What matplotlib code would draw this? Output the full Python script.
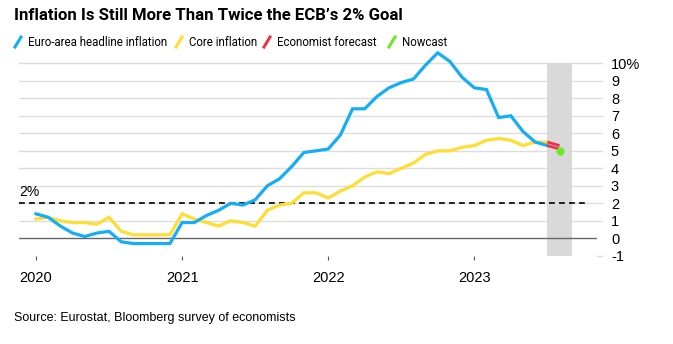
import matplotlib
matplotlib.use("Agg")
import matplotlib.pyplot as plt
import numpy as np

# monthly readings, Jan 2020 .. Jul 2023 (y/y %)
headline = [1.4, 1.2, 0.7, 0.3, 0.1, 0.3, 0.4, -0.2, -0.3, -0.3, -0.3, -0.3,
            0.9, 0.9, 1.3, 1.6, 2.0, 1.9, 2.2, 3.0, 3.4, 4.1, 4.9, 5.0,
            5.1, 5.9, 7.4, 7.4, 8.1, 8.6, 8.9, 9.1, 9.9, 10.6, 10.1, 9.2,
            8.6, 8.5, 6.9, 7.0, 6.1, 5.5, 5.3]
core = [1.1, 1.2, 1.0, 0.9, 0.9, 0.8, 1.2, 0.4, 0.2, 0.2, 0.2, 0.2,
        1.4, 1.1, 0.9, 0.7, 1.0, 0.9, 0.7, 1.6, 1.9, 2.0, 2.6, 2.6,
        2.3, 2.7, 3.0, 3.5, 3.8, 3.7, 4.0, 4.3, 4.8, 5.0, 5.0, 5.2,
        5.3, 5.6, 5.7, 5.6, 5.3, 5.5, 5.5]
forecast_headline = [5.3, 5.1]   # Jul -> Aug 2023
forecast_core = [5.5, 5.3]
nowcast = 5.0                    # Aug 2023
years = ["2020", "2021", "2022", "2023"]
yticks = [-1, 0, 1, 2, 3, 4, 5, 6, 7, 8, 9, 10]

plt.rcParams["font.family"] = ["Liberation Sans", "DejaVu Sans"]

BLUE = "#13aef5"
YELLOW = "#ffdd33"
RED = "#ea3447"
GREEN = "#6ee82a"

fig = plt.figure(figsize=(6.73, 3.44), dpi=100)
W, H = 673, 344
ylo, yhi = -1.25, 11
y0px, ppu = 238.3, 17.5
bottom = 1 - (y0px - ylo * ppu) / H
top = 1 - (y0px - yhi * ppu) / H
ax = fig.add_axes([19 / W, bottom, (597 - 19) / W, top - bottom])

ppm = 12.175
xlo = (19 - 36) / ppm
xhi = (597 - 36) / ppm
ax.set_xlim(xlo, xhi)
ax.set_ylim(ylo, yhi)
for s in ax.spines.values():
    s.set_visible(False)

grid_end = (602 - 36) / ppm
for v in range(1, 11):
    ax.plot([xlo, grid_end], [v, v], color="#dddddd", lw=1, clip_on=False, zorder=1)
ax.plot([xhi, grid_end], [-1, -1], color="#dddddd", lw=1, clip_on=False, zorder=1)
ax.plot([xlo, xhi], [0, 0], color="#666666", lw=1, zorder=2)

# forecast window
ax.fill_between([42, 44], -1, 10, color="#d9d9d9", lw=0, zorder=1.5)

# ECB target
ax.plot([xlo, (589 - 36) / ppm], [2, 2], color="black", lw=1.2, ls=(0, (3.5, 2.5)), zorder=3)
ax.text(xlo, 2.25, "2%", fontsize=10, va="bottom", ha="left")

months = np.arange(len(headline))
ax.plot(months, core, color=YELLOW, lw=2.3, zorder=4, solid_joinstyle="miter")
ax.plot(months, headline, color=BLUE, lw=2.3, zorder=5, solid_joinstyle="miter")
ax.plot([42, 43], forecast_core, color=RED, lw=2.0, zorder=6, solid_capstyle="butt")
ax.plot([42, 43], forecast_headline, color=RED, lw=2.0, zorder=6, solid_capstyle="butt")
ax.scatter([43], [nowcast], s=36, color=GREEN, zorder=7, lw=0)

ax.set_xticks([0, 12, 24, 36])
ax.set_xticklabels(years)
ax.tick_params(axis="x", direction="in", length=3, width=0.8, color="#555555", pad=8, labelsize=10.5)
ax.yaxis.tick_right()
ax.set_yticks(yticks)
ax.set_yticklabels([str(v) + ("%" if v == 10 else "") for v in yticks])
ax.tick_params(axis="y", length=0, pad=10, labelsize=10.5)

fig.text(14 / W, 1 - 16 / H, "Inflation Is Still More Than Twice the ECB\u2019s 2% Goal",
         fontsize=12.1, fontweight="bold", family="Roboto", va="center", ha="left")

# legend row
items = [("Euro-area headline inflation", BLUE, 15),
         ("Core inflation", YELLOW, 176),
         ("Economist forecast", RED, 264),
         ("Nowcast", GREEN, 389)]
ly = 1 - 42 / H
for label, col, xp in items:
    fig.add_artist(plt.Line2D([xp / W, (xp + 6) / W], [ly - 5 / H, ly + 5 / H],
                              color=col, lw=2.2, transform=fig.transFigure))
    fig.text((xp + 13) / W, ly, label, fontsize=8.3, family="Roboto", va="center", ha="left")

fig.text(14 / W, 1 - 318 / H, "Source: Eurostat, Bloomberg survey of economists",
         fontsize=9, va="center", ha="left")

fig.savefig("out.png", dpi=100)
